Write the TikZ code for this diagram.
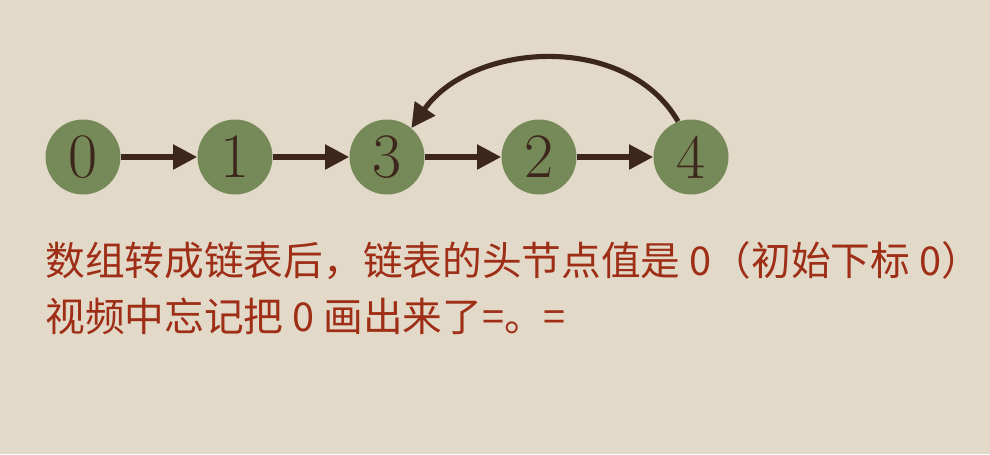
\documentclass[tikz,border=0pt]{standalone}
\usepackage{fontspec}
\newfontfamily\cjk{Noto Sans CJK SC}
\usepackage{tikz}
\usetikzlibrary{arrows.meta,positioning}
\definecolor{papier}{RGB}{226,217,200}
\definecolor{vert}{RGB}{118,137,88}
\definecolor{brun}{RGB}{61,38,28}
\definecolor{rouille}{RGB}{158,46,22}
\tikzset{noeud/.style={circle,fill=vert,draw=none,minimum size=1.5cm,inner sep=0pt,text=brun,font=\fontsize{36}{36}\selectfont},
         fleche/.style={brun,line width=2.9pt,-{Triangle[length=0.48cm,width=0.48cm]}},
         texte/.style={text=rouille,font=\cjk\fontsize{22.6}{26}\selectfont,anchor=west,inner sep=0pt}}

\begin{document}
\begin{tikzpicture}[x=0.02cm,y=-0.02cm]
\fill[papier](0,0)rectangle(990,454);
\foreach \k/\val in {0/0,1/1,2/3,3/2,4/4}
    \node[noeud](n\val) at ({83+152*\k},157){\val};
\foreach \a/\b in {0/1,1/3,3/2,2/4}
    \draw[fleche](n\a)--(n\b);
\draw[fleche](n4.110)to[out=120,in=55](n3.50);
\node[texte](l1) at (45,261){数组转成链表后，链表的头节点值是 0（初始下标 0）};
\node[texte](l2) at (45,316){视频中忘记把 0 画出来了=。=};
\end{tikzpicture}
\end{document}
